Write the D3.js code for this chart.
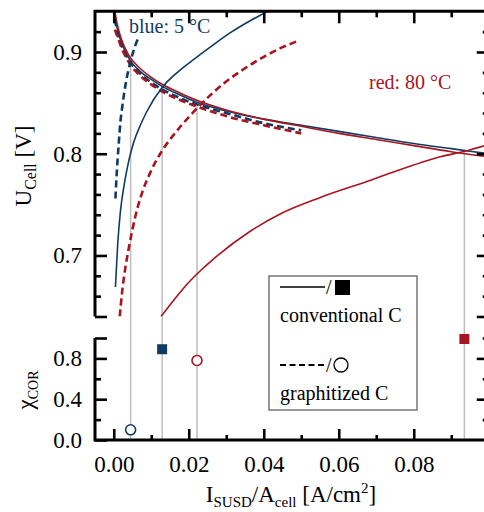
<!DOCTYPE html>
<html>
<head>
<meta charset="utf-8">
<script src="https://d3js.org/d3.v7.min.js"></script>
<style>
body { margin: 0; background: white; }
svg text, svg tspan { font-family: "Liberation Serif", "Times New Roman", Times, "DejaVu Serif", serif !important; }
</style>
</head>
<body>
<script>
// polarization curves (falling), [I/A, U]
var blueConvPol = [[0.0002,0.938],[0.001,0.922],[0.002,0.910],[0.004,0.894],[0.007,0.881],[0.010,0.873],[0.013,0.866],[0.0175,0.858],[0.0225,0.850],[0.03,0.842],[0.04,0.834],[0.05,0.828],[0.06,0.822],[0.07,0.816],[0.08,0.810],[0.09,0.805],[0.1,0.800]];
var redConvPol = [[0.0002,0.942],[0.001,0.926],[0.002,0.913],[0.004,0.897],[0.007,0.884],[0.010,0.875],[0.013,0.868],[0.0175,0.860],[0.0225,0.852],[0.03,0.843],[0.04,0.834],[0.05,0.827],[0.06,0.820],[0.07,0.814],[0.08,0.808],[0.09,0.802],[0.1,0.797]];
var blueGraphPol = [[0.0003,0.932],[0.001,0.919],[0.002,0.907],[0.004,0.892],[0.007,0.879],[0.010,0.870],[0.013,0.863],[0.0175,0.855],[0.0225,0.848],[0.03,0.840],[0.04,0.830],[0.05,0.823]];
var redGraphPol = [[0.0003,0.922],[0.001,0.915],[0.002,0.905],[0.004,0.890],[0.007,0.877],[0.010,0.868],[0.013,0.861],[0.0175,0.853],[0.0225,0.846],[0.03,0.837],[0.04,0.828],[0.05,0.820]];

// SUSD curves (rising)
var blueConvSusd = [[0.00045,0.669],[0.00107,0.712],[0.0018,0.744],[0.00285,0.771],[0.004,0.793],[0.0053,0.811],[0.0071,0.828],[0.0089,0.842],[0.0129,0.865],[0.0173,0.881],[0.0218,0.894],[0.0258,0.905],[0.0311,0.919],[0.0365,0.931],[0.040,0.938],[0.0415,0.941]];
var blueGraphSusd = [[0.00045,0.756],[0.00072,0.776],[0.00133,0.810],[0.0018,0.832],[0.0023,0.847],[0.0031,0.867],[0.0045,0.891],[0.0058,0.907],[0.0067,0.915]];
var redGraphSusd = [[0.0016,0.640],[0.0022,0.663],[0.0031,0.688],[0.004,0.707],[0.0049,0.724],[0.0058,0.739],[0.0076,0.762],[0.0098,0.782],[0.0129,0.803],[0.0165,0.821],[0.0205,0.838],[0.0239,0.851],[0.0293,0.869],[0.0346,0.883],[0.0399,0.895],[0.0452,0.905],[0.0492,0.911]];
var redConvSusd = [[0.0126,0.640],[0.016,0.656],[0.0196,0.672],[0.0231,0.685],[0.0258,0.694],[0.0365,0.724],[0.0445,0.741],[0.0551,0.757],[0.0685,0.774],[0.0738,0.781],[0.0871,0.797],[0.0942,0.803],[0.1,0.809]];

// crossing points and chi_COR
var guideX = [0.0045, 0.0129, 0.0222, 0.0935];
var guideU = [0.891, 0.866, 0.847, 0.802];
var convX = [0.0129, 0.0935];
var convChi = [0.89, 0.99];
var graphX = [0.0045, 0.0222];
var graphChi = [0.10, 0.78];

var xMajor = [0, 0.02, 0.04, 0.06, 0.08];
var xMinor = [0.01, 0.03, 0.05, 0.07, 0.09];
var uMajor = [0.7, 0.8, 0.9];
var uMinor = [0.66, 0.68, 0.72, 0.74, 0.76, 0.78, 0.82, 0.84, 0.86, 0.88, 0.92];
var chiMajor = [0, 0.4, 0.8];
var chiMinor = [0.2, 0.6];

const blue = "#0f3b63";
const red = "#a8141f";
const W = 484, H = 512;
const serif = "'Liberation Serif', 'Times New Roman', Times, 'DejaVu Serif', serif";

var svg = d3.select("body").append("svg").attr("width", W).attr("height", H)
  .style("font-family", serif);

var x = d3.scaleLinear().domain([-0.005, 0.1]).range([95, 488.75]);
var yU = d3.scaleLinear().domain([0.64, 0.94]).range([316.5, 11.3]);
var yC = d3.scaleLinear().domain([0, 1]).range([440, 338]);

svg.append("clipPath").attr("id", "clipTop")
  .append("rect").attr("x", x(-0.005)).attr("y", yU(0.94))
  .attr("width", x(0.1) - x(-0.005)).attr("height", yU(0.64) - yU(0.94));

// grey guide lines
svg.append("g").selectAll("line").data(guideX).enter().append("line")
  .attr("x1", d => x(d)).attr("x2", d => x(d))
  .attr("y1", (d, i) => yU(guideU[i])).attr("y2", yC(0))
  .attr("stroke", "#bdbdbd").attr("stroke-width", 1.5);

var line = d3.line().x(d => x(d[0])).y(d => yU(d[1])).curve(d3.curveMonotoneX);
var curves = [
  [blueConvPol, blue, false], [redConvPol, red, false],
  [blueGraphPol, blue, true], [redGraphPol, red, true],
  [blueConvSusd, blue, false], [redConvSusd, red, false],
  [blueGraphSusd, blue, true], [redGraphSusd, red, true]
];
var cg = svg.append("g").attr("clip-path", "url(#clipTop)");
curves.forEach(function(c) {
  cg.append("path").attr("d", line(c[0]))
    .attr("fill", "none").attr("stroke", c[1])
    .attr("stroke-width", c[2] ? 2.6 : 1.6)
    .attr("stroke-dasharray", c[2] ? "7,4" : null);
});

// markers
svg.append("g").selectAll("rect").data(convX).enter().append("rect")
  .attr("x", d => x(d) - 5).attr("y", (d, i) => yC(convChi[i]) - 5)
  .attr("width", 10).attr("height", 10)
  .attr("fill", (d, i) => i == 0 ? blue : red);
svg.append("g").selectAll("circle").data(graphX).enter().append("circle")
  .attr("cx", d => x(d)).attr("cy", (d, i) => yC(graphChi[i]))
  .attr("r", 5).attr("fill", "white")
  .attr("stroke", (d, i) => i == 0 ? blue : red).attr("stroke-width", 1.6);

// axes
function addAxis(gen, scale, vals, size, pos, fmt, pad) {
  var a = gen(scale).tickValues(vals).tickSizeInner(-size).tickSizeOuter(0)
    .tickFormat(fmt || "").tickPadding(pad || 3);
  var g = svg.append("g").attr("transform", pos).call(a);
  g.attr("font-family", null).attr("font-size", null);
  g.select(".domain").remove();
  g.selectAll("line").attr("stroke", "black").attr("stroke-width", 2.6);
  g.selectAll("text").style("font-family", serif).attr("font-size", 23).attr("fill", "black");
  return g;
}
var xL = x(-0.005), xR = x(0.1);
// top panel
addAxis(d3.axisLeft, yU, uMajor, 12, "translate(" + xL + ",0)", d3.format(".1f"), 13);
addAxis(d3.axisLeft, yU, uMinor, 6, "translate(" + xL + ",0)");
addAxis(d3.axisLeft, yU, [0.64], 12, "translate(" + xL + ",0)");
addAxis(d3.axisRight, yU, uMajor.concat([0.64]), 12, "translate(" + xR + ",0)");
addAxis(d3.axisRight, yU, uMinor, 6, "translate(" + xR + ",0)");
addAxis(d3.axisTop, x, xMajor, 12, "translate(0," + yU(0.94) + ")");
addAxis(d3.axisTop, x, xMinor, 6, "translate(0," + yU(0.94) + ")");
// bottom panel
addAxis(d3.axisLeft, yC, chiMajor, 12, "translate(" + xL + ",0)", d3.format(".1f"), 13);
addAxis(d3.axisLeft, yC, chiMinor, 6, "translate(" + xL + ",0)");
addAxis(d3.axisLeft, yC, [1.0], 12, "translate(" + xL + ",0)");
addAxis(d3.axisRight, yC, [0.4, 0.8], 12, "translate(" + xR + ",0)");
addAxis(d3.axisRight, yC, chiMinor.concat([1.0]), 6, "translate(" + xR + ",0)");
addAxis(d3.axisBottom, x, xMajor, 11, "translate(0," + yC(0) + ")", d3.format(".2f"), 15.5);
addAxis(d3.axisBottom, x, xMinor, 5, "translate(0," + yC(0) + ")");

// axis lines
var frame = svg.append("g").attr("stroke", "black").attr("stroke-width", 3).attr("fill", "none");
frame.append("path").attr("d", "M" + xL + "," + yU(0.64) + "V" + yU(0.94) + "H" + xR + "V" + yU(0.64));
frame.append("path").attr("d", "M" + xL + "," + yC(1) + "V" + yC(0) + "H" + xR + "V" + yC(1));

// axis titles
var t1 = svg.append("text").attr("transform", "translate(31,166) rotate(-90)")
  .attr("text-anchor", "middle").attr("font-size", 23);
t1.append("tspan").text("U");
t1.append("tspan").attr("font-size", 16).attr("dy", 5).text("Cell");
t1.append("tspan").attr("dy", -5).text(" [V]");

var t2 = svg.append("text").attr("transform", "translate(33,390) rotate(-90)")
  .attr("text-anchor", "middle").attr("font-size", 23);
t2.append("tspan").text("χ");
t2.append("tspan").attr("font-size", 14).attr("dy", 5).text("COR");

var t3 = svg.append("text").attr("x", 291).attr("y", 502)
  .attr("text-anchor", "middle").attr("font-size", 23);
t3.append("tspan").text("I");
t3.append("tspan").attr("font-size", 15).attr("dy", 5).text("SUSD");
t3.append("tspan").attr("dy", -5).text("/A");
t3.append("tspan").attr("font-size", 15).attr("dy", 5).text("cell");
t3.append("tspan").attr("dy", -5).text(" [A/cm");
t3.append("tspan").attr("font-size", 15).attr("dy", -9).text("2");
t3.append("tspan").attr("dy", 9).text("]");

// annotations
svg.append("text").attr("x", 129).attr("y", 33).attr("font-size", 20).attr("fill", blue).text("blue: 5 °C");
svg.append("text").attr("x", 369).attr("y", 89).attr("font-size", 20).attr("fill", red).text("red: 80 °C");

// legend
var lg = svg.append("g");
lg.append("rect").attr("x", 269).attr("y", 276).attr("width", 148).attr("height", 134)
  .attr("fill", "white").attr("stroke", "#777").attr("stroke-width", 1.5);
lg.append("line").attr("x1", 280).attr("x2", 325).attr("y1", 287).attr("y2", 287)
  .attr("stroke", "black").attr("stroke-width", 1.5);
lg.append("text").attr("x", 326).attr("y", 294).attr("font-size", 20).text("/");
lg.append("rect").attr("x", 335).attr("y", 280).attr("width", 15).attr("height", 15).attr("fill", "black");
lg.append("text").attr("x", 280).attr("y", 322).attr("font-size", 20).text("conventional C");
lg.append("line").attr("x1", 280).attr("x2", 325).attr("y1", 365).attr("y2", 365)
  .attr("stroke", "black").attr("stroke-width", 1.8).attr("stroke-dasharray", "6,3.5");
lg.append("text").attr("x", 326).attr("y", 372).attr("font-size", 20).text("/");
lg.append("circle").attr("cx", 341).attr("cy", 365).attr("r", 7)
  .attr("fill", "white").attr("stroke", "black").attr("stroke-width", 1.3);
lg.append("text").attr("x", 280).attr("y", 400).attr("font-size", 20).text("graphitized C");
</script>
</body>
</html>
